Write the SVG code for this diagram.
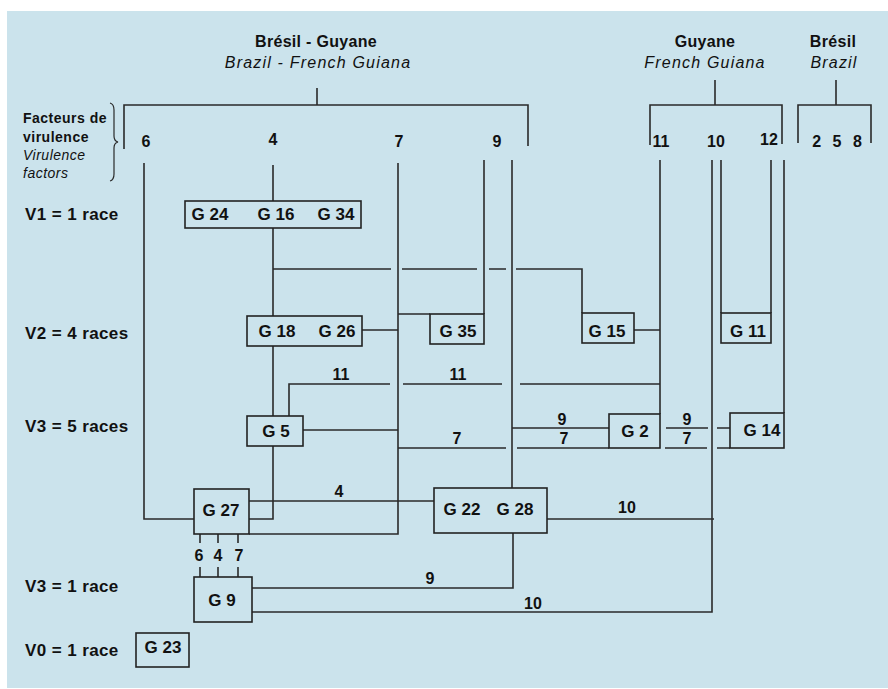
<svg xmlns="http://www.w3.org/2000/svg" width="888" height="689" viewBox="0 0 888 689">
<style>
  .bg{fill:#cbe3ec}
  .box{fill:none;stroke:#222;stroke-width:1.6}
  .ln{fill:none;stroke:#2a2a2a;stroke-width:1.6}
  text{font-family:"Liberation Sans",Arial,sans-serif;fill:#111}
  .hb{font-size:16px;font-weight:bold;text-anchor:middle;letter-spacing:0.3px}
  .hi{font-size:16px;font-style:italic;text-anchor:middle;letter-spacing:1.2px}
  .num{font-size:16px;font-weight:bold;text-anchor:middle}
  .lab{font-size:17px;font-weight:bold;letter-spacing:0.4px}
  .node{font-size:17px;font-weight:bold;text-anchor:middle}
  .el{font-size:16px;font-weight:bold;text-anchor:middle}
  .fb{font-size:14px;font-weight:bold;letter-spacing:0.5px}
  .fi{font-size:14px;font-style:italic;letter-spacing:0.5px}
</style>
<rect class="bg" x="7" y="11" width="881" height="677"/>

<g id="headers">
  <text class="hb" x="316" y="47">Brésil - Guyane</text>
  <text class="hi" x="318" y="68">Brazil - French Guiana</text>
  <text class="hb" x="705" y="47">Guyane</text>
  <text class="hi" x="705" y="68">French Guiana</text>
  <text class="hb" x="833" y="47">Brésil</text>
  <text class="hi" x="834" y="68">Brazil</text>
</g>

<g id="factors-label">
  <text class="fb" x="23" y="123">Facteurs de</text>
  <text class="fb" x="23" y="142">virulence</text>
  <text class="fi" x="23" y="160">Virulence</text>
  <text class="fi" x="23" y="178">factors</text>
  <path class="ln" style="stroke-width:1.2" d="M110,103 Q114,104 114,110 L114,136 Q114,141 118,142 Q114,143 114,148 L114,174 Q114,180 110,181"/>
</g>

<g id="factor-numbers">
  <text class="num" x="146" y="147">6</text>
  <text class="num" x="273" y="145">4</text>
  <text class="num" x="399" y="147">7</text>
  <text class="num" x="497" y="147">9</text>
  <text class="num" x="661" y="147">11</text>
  <text class="num" x="716" y="147">10</text>
  <text class="num" x="769" y="145">12</text>
  <text class="num" x="837" y="147" style="word-spacing:7px">2 5 8</text>
</g>

<g id="level-labels">
  <text class="lab" x="25" y="220">V1 = 1 race</text>
  <text class="lab" x="25" y="339">V2 = 4 races</text>
  <text class="lab" x="25" y="432">V3 = 5 races</text>
  <text class="lab" x="25" y="592">V3 = 1 race</text>
  <text class="lab" x="25" y="656">V0 = 1 race</text>
</g>

<g id="connectors">
  <path class="ln" d="M317,88 V105 M124,149 V105 H528 V146"/>
  <path class="ln" d="M715,80 V105 M650,145 V105 H782 V144"/>
  <path class="ln" d="M836,80 V105 M798,143 V105 H871 V143"/>
  <path class="ln" d="M144,163 V519 H194"/>
  <path class="ln" d="M273,165 V201 M273,228 V316 M273,346 V416 M273,446 V519 H249"/>
  <path class="ln" d="M273,269 H391 M402,269 H477 M489,269 H506 M516,269 H582 V313"/>
  <path class="ln" d="M398,163 V534 H249"/>
  <path class="ln" d="M362,330 H398 M398,314 H430"/>
  <path class="ln" d="M484,160 V314"/>
  <path class="ln" d="M512,160 V488"/>
  <path class="ln" d="M634,330 H660 M660,160 V414"/>
  <path class="ln" d="M289,416 V384 H390 M403,384 H502 M520,384 H660"/>
  <path class="ln" d="M303,430 H398"/>
  <path class="ln" d="M398,448 H506 M517,448 H609 M665,448 H707 M717,448 H730"/>
  <path class="ln" d="M512,428 H609 M666,428 H708 M717,428 H730"/>
  <path class="ln" d="M712,160 V612 H252"/>
  <path class="ln" d="M721,160 V313 M771,160 V313 M784,160 V413"/>
  <path class="ln" d="M249,501 H434"/>
  <path class="ln" d="M547,519 H714"/>
  <path class="ln" d="M513,533 V588 H252"/>
  <path class="ln" d="M200,534 V543 M200,567 V577 M218,534 V543 M218,567 V577 M238,534 V543 M238,567 V577"/>
  <text class="el" x="341" y="380">11</text>
  <text class="el" x="458" y="380">11</text>
  <text class="el" x="457" y="444">7</text>
  <text class="el" x="562" y="425">9</text>
  <text class="el" x="564" y="444">7</text>
  <text class="el" x="687" y="425">9</text>
  <text class="el" x="687" y="444">7</text>
  <text class="el" x="339" y="497">4</text>
  <text class="el" x="627" y="513">10</text>
  <text class="el" x="430" y="584">9</text>
  <text class="el" x="533" y="609">10</text>
  <text class="el" x="199" y="561">6</text>
  <text class="el" x="218" y="561">4</text>
  <text class="el" x="239" y="561">7</text>
</g>

<g id="n-g24-g16-g34">
  <rect class="box" x="185" y="201" width="176" height="27"/>
  <text class="node" x="210" y="220">G 24</text>
  <text class="node" x="276" y="220">G 16</text>
  <text class="node" x="336" y="220">G 34</text>
</g>
<g id="n-g18-g26">
  <rect class="box" x="247" y="316" width="115" height="30"/>
  <text class="node" x="277" y="337">G 18</text>
  <text class="node" x="337" y="337">G 26</text>
</g>
<g id="n-g35">
  <rect class="box" x="430" y="314" width="54" height="30"/>
  <text class="node" x="458" y="337">G 35</text>
</g>
<g id="n-g15">
  <rect class="box" x="582" y="313" width="52" height="30"/>
  <text class="node" x="607" y="337">G 15</text>
</g>
<g id="n-g11">
  <rect class="box" x="721" y="313" width="50" height="30"/>
  <text class="node" x="748" y="337">G 11</text>
</g>
<g id="n-g5">
  <rect class="box" x="247" y="416" width="56" height="30"/>
  <text class="node" x="276" y="437">G 5</text>
</g>
<g id="n-g2">
  <rect class="box" x="609" y="414" width="51" height="34"/>
  <text class="node" x="635" y="437">G 2</text>
</g>
<g id="n-g14">
  <rect class="box" x="730" y="413" width="54" height="35"/>
  <text class="node" x="762" y="436">G 14</text>
</g>
<g id="n-g27">
  <rect class="box" x="194" y="489" width="55" height="45"/>
  <text class="node" x="221" y="516">G 27</text>
</g>
<g id="n-g22-g28">
  <rect class="box" x="434" y="488" width="113" height="45"/>
  <text class="node" x="462" y="515">G 22</text>
  <text class="node" x="515" y="515">G 28</text>
</g>
<g id="n-g9">
  <rect class="box" x="194" y="577" width="58" height="45"/>
  <text class="node" x="222" y="606">G 9</text>
</g>
<g id="n-g23">
  <rect class="box" x="136" y="633" width="53" height="34"/>
  <text class="node" x="163" y="653">G 23</text>
</g>
</svg>
